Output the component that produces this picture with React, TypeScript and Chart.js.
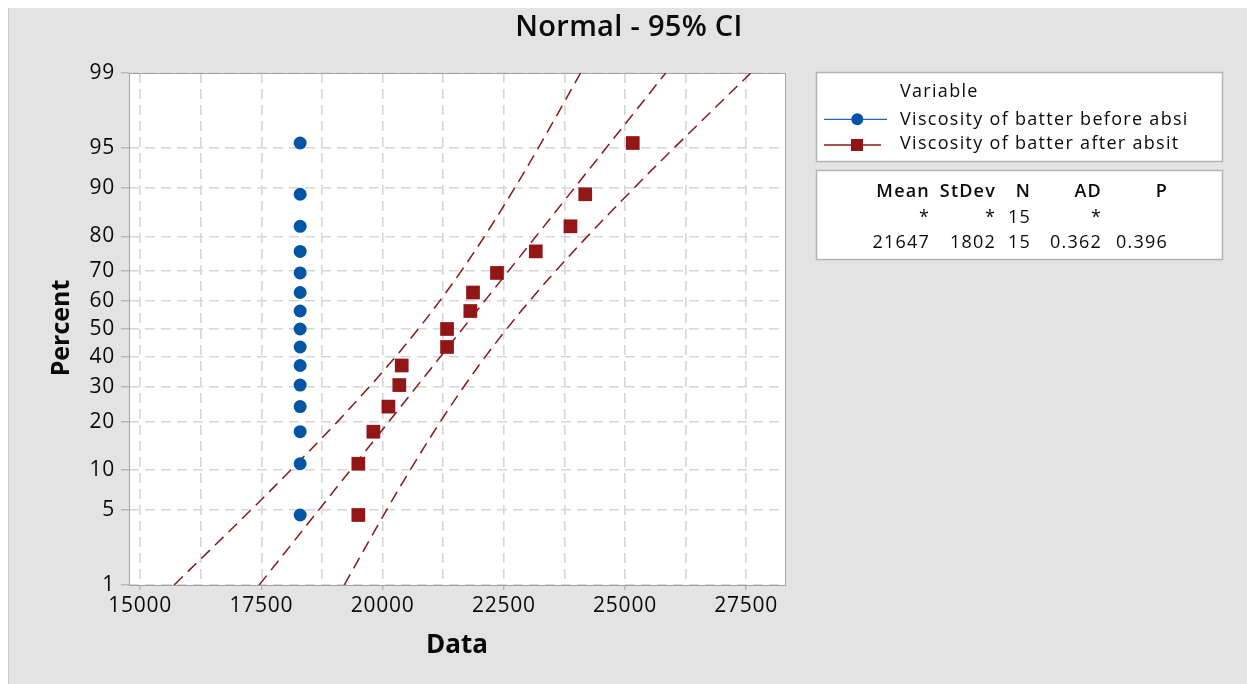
import React, { useEffect, useRef } from "react";
import { Chart, registerables, LinearScale } from "chart.js";

// ---- data ----
// Median-rank plotting positions (percent) for n = 15
const PLOT_PERCENTS = [4.55, 11.04, 17.53, 24.03, 30.52, 37.01, 43.51, 50, 56.49, 62.99, 69.48, 75.97, 82.47, 88.96, 95.45];
const BEFORE_VALUES = [18300, 18300, 18300, 18300, 18300, 18300, 18300, 18300, 18300, 18300, 18300, 18300, 18300, 18300, 18300];
const AFTER_VALUES = [19500, 19500, 19810, 20120, 20345, 20395, 21330, 21330, 21810, 21865, 22360, 23160, 23875, 24180, 25160];

// Fitted normal distribution for the "after" series
const AFTER_MEAN = 21647;
const AFTER_STDEV = 1802;

// 95% confidence band for the fitted percentiles
const CI_PERCENTS = [1, 5, 10, 20, 30, 40, 50, 60, 70, 80, 90, 95, 99];
const CI_LOWER = [15700, 17284, 18107, 19070, 19729, 20265, 20735, 21177, 21619, 22102, 22725, 23212, 24084];
const CI_UPPER = [19210, 20082, 20569, 21192, 21675, 22117, 22559, 23029, 23565, 24224, 25187, 26010, 27594];

// Axis ticks
const Y_TICKS = [1, 5, 10, 20, 30, 40, 50, 60, 70, 80, 90, 95, 99];
const X_TICKS = [15000, 16250, 17500, 18750, 20000, 21250, 22500, 23750, 25000, 26250, 27500];
const X_LABEL_STEP = 2500;

// Legend / statistics table
const SERIES_NAMES = ["Viscosity of batter before absi", "Viscosity of batter after absit"];
const STAT_HEADERS = ["Mean", "StDev", "N", "AD", "P"];
const BEFORE_STATS = ["*", "*", "15", "*", ""];
const AFTER_STATS = [String(AFTER_MEAN), String(AFTER_STDEV), "15", "0.362", "0.396"];

const FONT = '"Open Sans", "Noto Sans", sans-serif';
const INK = "#0a0a0a";
const BLUE = "#0455a6";
const RED = "#931616";
const RED_LINE = "#8a1717";

// Inverse standard normal CDF (Acklam)
function probit(p: number): number {
  const a = [-3.969683028665376e1, 2.209460984245205e2, -2.759285104469687e2, 1.38357751867269e2, -3.066479806614716e1, 2.506628277459239];
  const b = [-5.447609879822406e1, 1.615858368580409e2, -1.556989798598866e2, 6.680131188771972e1, -1.328068155288572e1];
  const c = [-7.784894002430293e-3, -3.223964580411365e-1, -2.400758277161838, -2.549732539343734, 4.374664141464968, 2.938163982698783];
  const d = [7.784695709041462e-3, 3.224671290700398e-1, 2.445134137142996, 3.754408661907416];
  const pl = 0.02425;
  if (p < pl) {
    const q = Math.sqrt(-2 * Math.log(p));
    return (((((c[0] * q + c[1]) * q + c[2]) * q + c[3]) * q + c[4]) * q + c[5]) / ((((d[0] * q + d[1]) * q + d[2]) * q + d[3]) * q + 1);
  }
  if (p <= 1 - pl) {
    const q = p - 0.5;
    const r = q * q;
    return ((((((a[0] * r + a[1]) * r + a[2]) * r + a[3]) * r + a[4]) * r + a[5]) * q) / (((((b[0] * r + b[1]) * r + b[2]) * r + b[3]) * r + b[4]) * r + 1);
  }
  const q = Math.sqrt(-2 * Math.log(1 - p));
  return -(((((c[0] * q + c[1]) * q + c[2]) * q + c[3]) * q + c[4]) * q + c[5]) / ((((d[0] * q + d[1]) * q + d[2]) * q + d[3]) * q + 1);
}

// Normal probability scale: values are percents, positions follow the normal quantile
class ProbitScale extends LinearScale {
  static id = "probit";
  static defaults = {};
  determineDataLimits() {
    const o: any = (this as any).options;
    (this as any).min = probit(o.min / 100);
    (this as any).max = probit(o.max / 100);
  }
  buildTicks() {
    return Y_TICKS.map((v) => ({ value: v }));
  }
  getPixelForValue(value: number) {
    return super.getPixelForValue(probit(value / 100));
  }
}

Chart.register(...registerables, ProbitScale);

const W = 1239;
const H = 676;

const framePlugin = {
  id: "frame",
  beforeLayout(chart: any) {
    (chart.ctx as any).letterSpacing = "0.75px";
  },
  beforeDraw(chart: any) {
    const { ctx, chartArea: ca } = chart;
    (ctx as any).letterSpacing = "0.75px";
    ctx.save();
    ctx.fillStyle = "#e3e3e3";
    ctx.fillRect(0, 0, W, H);
    ctx.fillStyle = "#c9c9c9";
    ctx.fillRect(0, 0, 1, H);
    ctx.fillStyle = "#ffffff";
    ctx.fillRect(ca.left, ca.top, ca.right - ca.left, ca.bottom - ca.top);
    ctx.restore();
  },
  beforeDatasetsDraw(chart: any) {
    const { ctx, chartArea: ca } = chart;
    ctx.save();
    ctx.strokeStyle = "#a3a3a3";
    ctx.lineWidth = 1;
    ctx.strokeRect(Math.round(ca.left) + 0.5, Math.round(ca.top) + 0.5, Math.round(ca.right - ca.left), Math.round(ca.bottom - ca.top));
    ctx.restore();
  },
  afterDraw(chart: any) {
    const { ctx, chartArea: ca } = chart;
    ctx.save();
    ctx.fillStyle = INK;
    ctx.textBaseline = "alphabetic";

    // titles
    ctx.textAlign = "center";
    ctx.letterSpacing = "0.3px";
    ctx.font = `600 29px ${FONT}`;
    ctx.fillText("Normal - 95% CI", 621, 28);
    ctx.letterSpacing = "0px";
    ctx.font = `bold 26px ${FONT}`;
    ctx.fillText("Data", (ca.left + ca.right) / 2, 645);
    ctx.save();
    ctx.translate(61, 320);
    ctx.rotate(-Math.PI / 2);
    ctx.font = `bold 25px ${FONT}`;
    ctx.fillText("Percent", 0, 0);
    ctx.restore();

    // legend box
    const bx = 808.5;
    const bw = 406;
    ctx.fillStyle = "#ffffff";
    ctx.strokeStyle = "#b4b4b4";
    ctx.lineWidth = 1.5;
    ctx.fillRect(bx, 64.5, bw, 89);
    ctx.strokeRect(bx, 64.5, bw, 89);
    ctx.fillRect(bx, 162.5, bw, 89);
    ctx.strokeRect(bx, 162.5, bw, 89);

    ctx.fillStyle = INK;
    ctx.textAlign = "left";
    ctx.letterSpacing = "1.3px";
    ctx.font = `500 18px ${FONT}`;
    ctx.fillText("Variable", 892, 89.3);
    ctx.fillText(SERIES_NAMES[0], 892, 117);
    ctx.fillText(SERIES_NAMES[1], 892, 141.3);

    // legend markers
    ctx.strokeStyle = "#2a66b3";
    ctx.lineWidth = 1.2;
    ctx.beginPath();
    ctx.moveTo(816, 111.3);
    ctx.lineTo(879, 111.3);
    ctx.stroke();
    ctx.fillStyle = BLUE;
    ctx.beginPath();
    ctx.arc(849.3, 111.3, 6, 0, Math.PI * 2);
    ctx.fill();
    ctx.strokeStyle = RED_LINE;
    ctx.lineWidth = 1.5;
    ctx.beginPath();
    ctx.moveTo(816, 137);
    ctx.lineTo(873, 137);
    ctx.stroke();
    ctx.fillStyle = RED;
    ctx.fillRect(843, 131, 12, 12);

    // statistics table (right-aligned columns; trailing spacing offset)
    const colRight = [922, 988, 1023, 1094, 1160];
    ctx.fillStyle = INK;
    ctx.textAlign = "right";
    ctx.letterSpacing = "1.2px";
    ctx.font = `600 18px ${FONT}`;
    STAT_HEADERS.forEach((t, i) => ctx.fillText(t, colRight[i], 188.7));
    ctx.font = `500 18px ${FONT}`;
    BEFORE_STATS.forEach((t, i) => ctx.fillText(t, colRight[i], 215.3));
    AFTER_STATS.forEach((t, i) => ctx.fillText(t, colRight[i], 240.3));
    ctx.restore();
    (ctx as any).letterSpacing = "0.75px";
  },
};

export default function App() {
  const ref = useRef<HTMLCanvasElement | null>(null);

  useEffect(() => {
    if (!ref.current) return;
    const pts = (xs: number[], ys: number[]) => xs.map((x, i) => ({ x, y: ys[i] }));
    const fitLine = [
      { x: AFTER_MEAN + probit(0.01) * AFTER_STDEV, y: 1 },
      { x: AFTER_MEAN + probit(0.99) * AFTER_STDEV, y: 99 },
    ];
    const bandStyle = {
      showLine: true,
      pointRadius: 0,
      borderColor: RED_LINE,
      borderWidth: 1.5,
      borderDash: [12, 7],
      fill: false,
      order: 2,
    };

    const chart = new Chart(ref.current, {
      type: "scatter",
      data: {
        datasets: [
          {
            label: SERIES_NAMES[0],
            data: pts(BEFORE_VALUES, PLOT_PERCENTS),
            pointStyle: "circle",
            pointRadius: 6.5,
            backgroundColor: BLUE,
            borderColor: BLUE,
            borderWidth: 0,
            order: 0,
          },
          {
            label: SERIES_NAMES[1],
            data: pts(AFTER_VALUES, PLOT_PERCENTS),
            pointStyle: "rect",
            pointRadius: 9.7,
            backgroundColor: RED,
            borderColor: RED,
            borderWidth: 0,
            order: 0,
          },
          { label: "fit", data: fitLine, ...bandStyle } as any,
          { label: "lower", data: pts(CI_LOWER, CI_PERCENTS), tension: 0.35, ...bandStyle } as any,
          { label: "upper", data: pts(CI_UPPER, CI_PERCENTS), tension: 0.35, ...bandStyle } as any,
        ],
      },
      options: {
        animation: false,
        responsive: false,
        events: [],
        layout: { padding: { left: 0, top: 65, right: W - 777, bottom: 0 } },
        plugins: {
          legend: { display: false },
          tooltip: { enabled: false },
          title: { display: false },
        },
        scales: {
          x: {
            type: "linear",
            min: 14770,
            max: 28300,
            afterBuildTicks: (scale: any) => {
              scale.ticks = X_TICKS.map((v) => ({ value: v }));
            },
            afterFit: (scale: any) => {
              scale.height = H - 577;
            },
            border: { display: false, dash: [10, 6] },
            grid: {
              color: "#d6d6d6",
              lineWidth: 1.6,
              tickLength: 5,
              tickWidth: 1,
              tickColor: (c: any) => (c.tick && c.tick.value % X_LABEL_STEP === 0 ? "#a3a3a3" : "rgba(0,0,0,0)"),
            },
            ticks: {
              autoSkip: false,
              maxRotation: 0,
              padding: 3,
              color: INK,
              font: { family: FONT, size: 21, weight: "500" },
              callback: (v: any) => (Number(v) % X_LABEL_STEP === 0 ? String(v) : ""),
            },
          },
          y: {
            type: "probit" as any,
            min: 1,
            max: 99,
            afterFit: (scale: any) => {
              scale.width = 121;
            },
            border: { display: false, dash: [10, 6] },
            grid: {
              color: "#d6d6d6",
              lineWidth: 1.6,
              tickLength: 8,
              tickWidth: 1,
              tickColor: "#a3a3a3",
            },
            ticks: {
              autoSkip: false,
              padding: 6,
              color: INK,
              font: { family: FONT, size: 21, weight: "500" },
              callback: (v: any) => String(v),
            },
          } as any,
        },
      },
      plugins: [framePlugin],
    });
    return () => chart.destroy();
  }, []);

  return (
    <div style={{ position: "fixed", left: 8, top: 8, width: W, height: H, overflow: "hidden" }}>
      <canvas ref={ref} width={W} height={H} style={{ display: "block", width: W, height: H }} />
    </div>
  );
}
